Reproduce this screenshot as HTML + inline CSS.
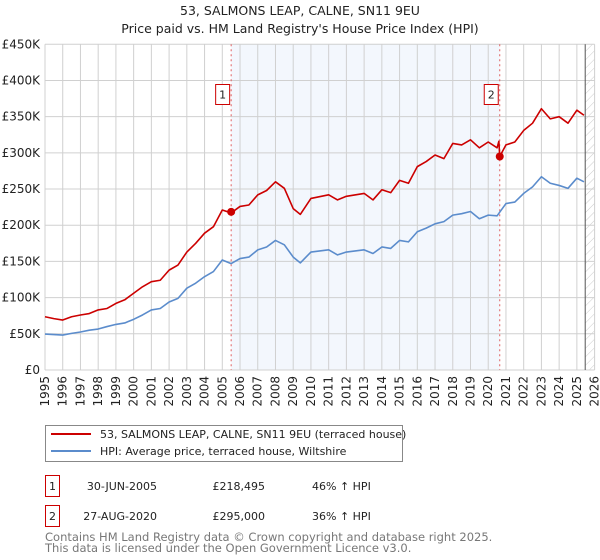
<!DOCTYPE html>
<html><head><meta charset="utf-8"><style>
body{margin:0;background:#fff;font-family:"DejaVu Sans","Liberation Sans",sans-serif;}
svg{display:block}
</style></head><body>
<svg id="c" width="600" height="560" xmlns="http://www.w3.org/2000/svg" font-family="DejaVu Sans, Liberation Sans, sans-serif">
<defs><pattern id="hatch" width="6" height="6" patternUnits="userSpaceOnUse" patternTransform="rotate(45)"><line x1="0" y1="0" x2="0" y2="6" stroke="#ccc" stroke-width="1"/></pattern></defs>
<text x="300" y="15" text-anchor="middle" font-size="12.5" fill="#222">53, SALMONS LEAP, CALNE, SN11 9EU</text>
<text x="300" y="33" text-anchor="middle" font-size="12.5" fill="#222">Price paid vs. HM Land Registry's House Price Index (HPI)</text>
<g id="plot"></g>
<g>
<rect x="45.5" y="425.5" width="357" height="36" fill="#fff" stroke="#888"/>
<line x1="51" y1="434" x2="91" y2="434" stroke="#cc0000" stroke-width="2"/>
<text x="100" y="438" font-size="11" fill="#222">53, SALMONS LEAP, CALNE, SN11 9EU (terraced house)</text>
<line x1="51" y1="451" x2="91" y2="451" stroke="#5b8ccc" stroke-width="2"/>
<text x="100" y="455" font-size="11" fill="#222">HPI: Average price, terraced house, Wiltshire</text>
</g>
<g font-size="11" fill="#222">
<rect x="45.5" y="475.5" width="14" height="21" fill="#fff" stroke="#cc0000"/>
<text x="52.5" y="490" text-anchor="middle">1</text>
<text x="157" y="490" text-anchor="end">30-JUN-2005</text>
<text x="265" y="490" text-anchor="end">£218,495</text>
<text x="312" y="490">46% ↑ HPI</text>
<rect x="45.5" y="505.5" width="14" height="21" fill="#fff" stroke="#cc0000"/>
<text x="52.5" y="520" text-anchor="middle">2</text>
<text x="157" y="520" text-anchor="end">27-AUG-2020</text>
<text x="265" y="520" text-anchor="end">£295,000</text>
<text x="312" y="520">36% ↑ HPI</text>
</g>
<text x="45" y="541" font-size="11.5" fill="#777">Contains HM Land Registry data © Crown copyright and database right 2025.</text>
<text x="45" y="552" font-size="11.5" fill="#777">This data is licensed under the Open Government Licence v3.0.</text>
</svg>
<script>
const yearTicks=[1995,1996,1997,1998,1999,2000,2001,2002,2003,2004,2005,2006,2007,2008,2009,2010,2011,2012,2013,2014,2015,2016,2017,2018,2019,2020,2021,2022,2023,2024,2025,2026];
const valueTicks=[0,50,100,150,200,250,300,350,400,450];
const valueLabels=["£0","£50K","£100K","£150K","£200K","£250K","£300K","£350K","£400K","£450K"];
const hpiYears=[1995,1995.5,1996,1996.5,1997,1997.5,1998,1998.5,1999,1999.5,2000,2000.5,2001,2001.5,2002,2002.5,2003,2003.5,2004,2004.5,2005,2005.5,2006,2006.5,2007,2007.5,2008,2008.5,2009,2009.4,2010,2011,2011.5,2012,2013,2013.5,2014,2014.5,2015,2015.5,2016,2016.5,2017,2017.5,2018,2018.5,2019,2019.5,2020,2020.5,2021,2021.5,2022,2022.5,2023,2023.5,2024,2024.5,2025,2025.4];
const hpiValues=[49.7,49,48.3,50.6,52.5,55,56.6,60,63,65,70,76,83,85,94,99,113,120,129,136,152,147,154,156,166,170,179,173,156,148,163,166,159,163,166,161,170,168,179,177,191,196,202,205,214,216,219,209,214,213,230,232,244,253,267,258,255,251,265,260];
const priceYears=[1995,1995.5,1996,1996.5,1997,1997.5,1998,1998.5,1999,1999.5,2000,2000.5,2001,2001.5,2002,2002.5,2003,2003.5,2004,2004.5,2005,2005.5,2006,2006.5,2007,2007.5,2008,2008.5,2009,2009.4,2010,2011,2011.5,2012,2013,2013.5,2014,2014.5,2015,2015.5,2016,2016.5,2017,2017.5,2018,2018.5,2019,2019.5,2020,2020.5,2020.6,2020.65,2021,2021.5,2022,2022.5,2023,2023.5,2024,2024.5,2025,2025.4];
const priceValues=[73.6,71,69,73.6,76,78,83,85,92,97,106,115,122,124,138,145,163,175,189,198,221,217,226,228,242,248,260,251,223,215,237,242,235,240,244,235,249,245,262,258,281,288,297,292,313,311,318,307,315,307,316,295,311,315,331,341,361,347,350,341,359,352];
const saleYears=[2005.5,2020.65];
const saleValues=[218.495,295];
const saleLabels=["1","2"];
const dataEnd=2025.47;

const NS="http://www.w3.org/2000/svg";
const L=45,R=594.6,T=44.3,B=370;
const X=y=>L+(y-1995)/(2026-1995)*(R-L);
const Y=v=>B-v/450*(B-T);
const g=document.getElementById('plot');
function mk(tag,attrs,parent){const e=document.createElementNS(NS,tag);for(const k in attrs)e.setAttribute(k,attrs[k]);(parent||g).appendChild(e);return e;}
let e;
e=mk('rect',{x:X(saleYears[0]),y:T,width:X(saleYears[1])-X(saleYears[0]),height:B-T,fill:'#eef3fc',opacity:0.7});


e=mk('rect',{x:X(dataEnd),y:T,width:R-X(dataEnd),height:B-T,fill:'url(#hatch)'});


yearTicks.forEach(yr=>{
  e=mk('line',{x1:X(yr),x2:X(yr),y1:T,y2:B,stroke:'#d0d0d0','stroke-width':1});
  
  
  const x=X(yr)+4;
  e=mk('text',{x:x,y:376,transform:`rotate(-90 ${x} 376)`,'text-anchor':'end','font-size':12,fill:'#222'});
  e.textContent=yr;
  
  
});
valueTicks.forEach((v,i)=>{
  e=mk('line',{x1:L,x2:R,y1:Y(v),y2:Y(v),stroke:'#d0d0d0','stroke-width':1});
  
  
  e=mk('text',{x:40,y:Y(v)+4,'text-anchor':'end','font-size':12,fill:'#222'});
  e.textContent=valueLabels[i];
  
  
});
e=mk('line',{x1:X(dataEnd),x2:X(dataEnd),y1:T,y2:B,stroke:'#555','stroke-width':1});


saleYears.forEach((yr,i)=>{
  e=mk('line',{x1:X(yr),x2:X(yr),y1:T,y2:B,stroke:'#e06060','stroke-width':1,'stroke-dasharray':'2,3'});
  
  
  e=mk('rect',{x:X(yr)-15.5,y:84.5,width:14,height:20,fill:'#fff',stroke:'#cc0000'});
  
  
  e=mk('text',{x:X(yr)-8.5,y:98.5,'text-anchor':'middle','font-size':11,fill:'#222'});
  e.textContent=saleLabels[i];
  
  
});
e=mk('polyline',{points:hpiYears.map((y,i)=>X(y)+','+Y(hpiValues[i])).join(' '),fill:'none',stroke:'#5b8ccc','stroke-width':1.6,'stroke-linejoin':'round'});


e=mk('polyline',{points:priceYears.map((y,i)=>X(y)+','+Y(priceValues[i])).join(' '),fill:'none',stroke:'#cc0000','stroke-width':1.6,'stroke-linejoin':'round'});


saleYears.forEach((yr,i)=>{
  e=mk('circle',{cx:X(yr),cy:Y(saleValues[i]),r:4,fill:'#cc0000'});
  
  
});
</script>
</body></html>
